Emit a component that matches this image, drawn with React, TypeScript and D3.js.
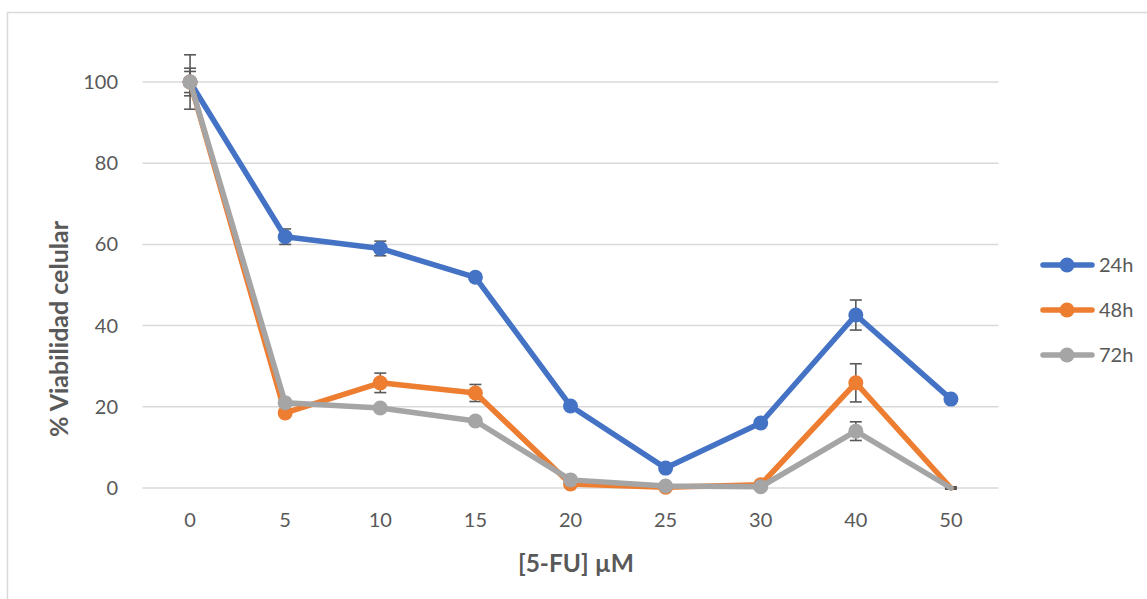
import React from "react";
import * as d3 from "d3";

const categories = ["0", "5", "10", "15", "20", "25", "30", "40", "50"];
const seriesNames = ["24h", "48h", "72h"];
const seriesColors = ["#4472C4", "#ED7D31", "#A5A5A5"];
const values24 = [100, 61.9, 59, 51.9, 20.2, 4.9, 16, 42.6, 21.9];
const values48 = [100, 18.5, 25.9, 23.4, 1, 0.2, 0.8, 25.9, 0];
const values72 = [100, 21, 19.7, 16.5, 2, 0.5, 0.3, 14, 0];
const err24 = [6.7, 1.9, 1.8, 0.8, 0.6, 0.5, 0.6, 3.7, 0.8];
const err48 = [3.4, 0.6, 2.4, 2.1, 0.3, 0.2, 0.3, 4.7, 0.2];
const err72 = [2.6, 0.7, 0.6, 0.5, 0.4, 0.3, 0.2, 2.3, 0.3];
const yTicks = [0, 20, 40, 60, 80, 100];

const W = 1147;
const H = 599;
const font = "Lato, 'Open Sans', sans-serif";
const textColor = "#595959";

export default function App() {
  const x = d3.scaleBand<string>().domain(categories).range([142.5, 998.5]);
  const y = d3.scaleLinear().domain([0, 100]).range([488, 82]);
  const cx = (c: string) => (x(c) as number) + x.bandwidth() / 2;
  const allValues = [values24, values48, values72];
  const allErr = [err24, err48, err72];
  const line = d3
    .line<number>()
    .x((_, i) => cx(categories[i]))
    .y((d) => y(d));

  return (
    <svg
      width={W}
      height={H}
      style={{ position: "absolute", left: 0, top: 0, display: "block", background: "#fff" }}
      fontFamily={font}
    >
      <defs>
        <clipPath id="plotClip">
          <rect x={0} y={0} width={W} height={488} />
        </clipPath>
      </defs>
      <rect x={7.5} y={12.5} width={W + 10} height={H + 10} fill="#fff" stroke="#D9D9D9" strokeWidth={1.5} />
      {yTicks.map((t) => (
        <g key={t}>
          <line x1={142.5} x2={998.5} y1={y(t)} y2={y(t)} stroke="#D9D9D9" strokeWidth={1.5} />
          <text x={118} y={y(t)} dy="0.35em" textAnchor="end" fontSize={20} fill={textColor}>
            {t}
          </text>
        </g>
      ))}
      {categories.map((c) => (
        <text key={c} x={cx(c)} y={527} textAnchor="middle" fontSize={20} fill={textColor}>
          {c}
        </text>
      ))}
      <text
        transform={`translate(68,329) rotate(-90)`}
        textAnchor="middle"
        fontSize={25}
        fontWeight="bold"
        fill={textColor}
      >
        % Viabilidad celular
      </text>
      <text x={576} y={572} textAnchor="middle" fontSize={24.5} fontWeight="bold" fill={textColor}>
        [5-FU] µM
      </text>
      {allValues.map((vals, s) =>
        vals.map((v, i) => {
          const e = allErr[s][i];
          const px = cx(categories[i]);
          return (
            <g key={`e${s}-${i}`} stroke="#595959" strokeWidth={1.6}>
              <line x1={px} x2={px} y1={y(v + e)} y2={y(v - e)} />
              <line x1={px - 6} x2={px + 6} y1={y(v + e)} y2={y(v + e)} />
              <line x1={px - 6} x2={px + 6} y1={y(v - e)} y2={y(v - e)} />
            </g>
          );
        })
      )}
      {allValues.map((vals, s) => (
        <g key={`s${s}`}>
          <path
            d={line(vals) as string}
            fill="none"
            stroke={seriesColors[s]}
            strokeWidth={5.5}
            strokeLinejoin="round"
            strokeLinecap="round"
          />
          {vals.map((v, i) =>
            v > 0 ? <circle key={i} cx={cx(categories[i])} cy={y(v)} r={7.5} fill={seriesColors[s]} /> : null
          )}
        </g>
      ))}
      {seriesNames.map((n, s) => {
        const ly = 265 + s * 45;
        return (
          <g key={n}>
            <line x1={1043} x2={1092} y1={ly} y2={ly} stroke={seriesColors[s]} strokeWidth={5.5} strokeLinecap="round" />
            <circle cx={1067} cy={ly} r={7.5} fill={seriesColors[s]} />
            <text x={1099} y={ly} dy="0.35em" fontSize={20} fill={textColor}>
              {n}
            </text>
          </g>
        );
      })}
    </svg>
  );
}
